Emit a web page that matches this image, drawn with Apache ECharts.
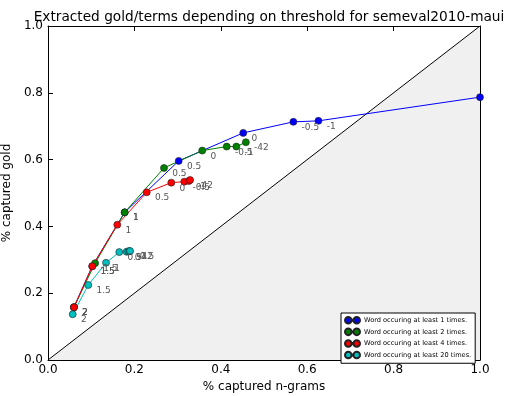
<!DOCTYPE html>
<html>
<head>
<meta charset="utf-8">
<script src="https://cdn.jsdelivr.net/npm/echarts@6/dist/echarts.min.js"></script>
<style>
  html, body { margin: 0; padding: 0; background: #fff; }
  #main { width: 505px; height: 396px; }
</style>
</head>
<body>
<div id="main"></div>
<script>
// thresholds used as point labels (same for every series)
const thresholds = ["2", "1.5", "1", "0.5", "0", "-0.5", "-1", "-42"];

// % captured n-grams / % captured gold
const x1 = [0.060, 0.1025, 0.1775, 0.3025, 0.452, 0.568, 0.626, 1.0];
const y1 = [0.158, 0.281, 0.442, 0.596, 0.680, 0.713, 0.716, 0.787];

const x2 = [0.060, 0.109, 0.1775, 0.2685, 0.357, 0.4137, 0.436, 0.458];
const y2 = [0.158, 0.290, 0.442, 0.575, 0.627, 0.639, 0.639, 0.652];

const x4 = [0.0602, 0.1025, 0.1604, 0.2285, 0.2854, 0.3155, 0.326, 0.329];
const y4 = [0.158, 0.2805, 0.405, 0.502, 0.531, 0.534, 0.536, 0.539];

const x20 = [0.0572, 0.0933, 0.1343, 0.165, 0.182, 0.186, 0.1887, 0.190];
const y20 = [0.137, 0.2246, 0.291, 0.323, 0.324, 0.3254, 0.326, 0.326];

const diagonal = [[0, 0], [1, 1]];

const names = [
  "Word occuring at least 1 times.",
  "Word occuring at least 2 times.",
  "Word occuring at least 4 times.",
  "Word occuring at least 20 times.",
];

var chartDom = document.getElementById("main");
var myChart = echarts.init(chartDom);
var option;

const font = "DejaVu Sans";

function mkSeries(name, xs, ys, color) {
  return {
    name: name,
    type: "line",
    data: xs.map((v, i) => [v, ys[i]]),
    symbol: "circle",
    symbolSize: 7,
    showAllSymbol: true,
    lineStyle: { color: color, width: 1 },
    itemStyle: { color: color, borderColor: "#222", borderWidth: 0.6 },
    label: {
      show: true,
      position: [12, 5],
      // labels past the right edge are clipped away in the original
      formatter: (p) => (p.value[0] >= 1 ? "" : thresholds[p.dataIndex]),
      color: "#555",
      fontSize: 9,
      fontFamily: font,
    },
    z: 3,
  };
}

// legend icon: line with a marker at each end
const legendIcon =
  "path://M0,3.5A3.5,3.5 0 1,1 7,3.5A3.5,3.5 0 1,1 0,3.5Z M7,3L9,3L9,4L7,4Z M9,3.5A3.5,3.5 0 1,1 16,3.5A3.5,3.5 0 1,1 9,3.5Z";

const axisCommon = {
  min: 0,
  max: 1,
  interval: 0.2,
  axisLine: { show: true, onZero: false, lineStyle: { color: "#000", width: 1 } },
  axisTick: { show: true, inside: true, length: 5, lineStyle: { color: "#000" } },
  splitLine: { show: false },
};

option = {
  animation: false,
  backgroundColor: "#fff",
  title: {
    text: "Extracted gold/terms depending on threshold for semeval2010-maui",
    left: 264,
    textAlign: "center",
    top: 5,
    textStyle: { fontFamily: font, fontWeight: "normal", fontSize: 13.7, color: "#000" },
  },
  grid: { left: 48, right: 25, top: 26, bottom: 36, outerBoundsMode: "none" },
  legend: {
    orient: "vertical",
    left: 341,
    top: 313,
    width: 136,
    data: names.map((n) => ({ name: n, icon: legendIcon })),
    itemWidth: 15,
    itemHeight: 7,
    itemGap: 3,
    padding: [3, 4, 4, 3],
    borderColor: "#000",
    borderWidth: 1,
    backgroundColor: "#fff",
    textStyle: { fontFamily: font, fontSize: 6.6, color: "#000", padding: [0, 0, 0, -1] },
    selectedMode: false,
  },
  xAxis: [
    {
      ...axisCommon,
      type: "value",
      position: "bottom",
      name: "% captured n-grams",
      nameLocation: "middle",
      nameGap: 19,
      nameTextStyle: { fontFamily: font, fontSize: 12, color: "#000" },
      axisLabel: {
        fontFamily: font,
        fontSize: 12,
        color: "#000",
        margin: 4,
        formatter: (v) => v.toFixed(1),
      },
    },
    {
      ...axisCommon,
      type: "value",
      position: "top",
      axisLabel: { show: false },
    },
  ],
  yAxis: [
    {
      ...axisCommon,
      type: "value",
      position: "left",
      name: "% captured gold",
      nameLocation: "middle",
      nameGap: 27,
      nameTextStyle: { fontFamily: font, fontSize: 12, color: "#000" },
      axisLabel: {
        fontFamily: font,
        fontSize: 12,
        color: "#000",
        margin: 5,
        formatter: (v) => v.toFixed(1),
      },
    },
    {
      ...axisCommon,
      type: "value",
      position: "right",
      axisLabel: { show: false },
    },
  ],
  series: [
    {
      name: "diag",
      type: "line",
      data: diagonal,
      symbol: "none",
      lineStyle: { color: "#000", width: 1 },
      areaStyle: { color: "#f0f0f0", opacity: 1 },
      silent: true,
      z: 1,
    },
    mkSeries(names[0], x1, y1, "#0000ff"),
    mkSeries(names[1], x2, y2, "#008000"),
    mkSeries(names[2], x4, y4, "#ff0000"),
    mkSeries(names[3], x20, y20, "#00bfbf"),
  ],
};

option && myChart.setOption(option);
</script>
</body>
</html>
